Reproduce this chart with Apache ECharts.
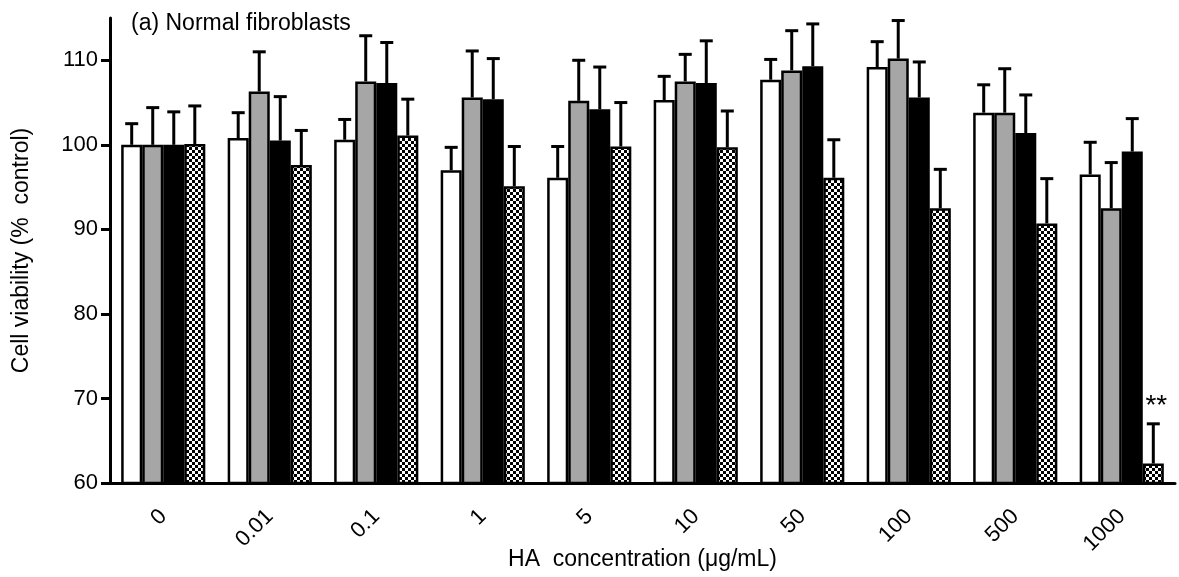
<!DOCTYPE html>
<html>
<head>
<meta charset="utf-8">
<script src="https://cdn.jsdelivr.net/npm/echarts@6/dist/echarts.min.js"></script>
<style>
    html, body { margin: 0; padding: 0; background: #fff; }
    #chart { width: 1179px; height: 577px; }
</style>
</head>
<body>
<div id="chart"></div>
<script>
    // HA concentrations (ug/mL)
    var categories = ['0', '0.01', '0.1', '1', '5', '10', '50', '100', '500', '1000'];

    // mean cell viability (% control), four series: white, grey, black, checkered
    var whiteVals = [100.0, 100.8, 100.6, 97.0, 96.1, 105.3, 107.7, 109.2, 103.8, 96.5];
    var greyVals  = [100.0, 106.3, 107.5, 105.6, 105.2, 107.5, 108.8, 110.2, 103.8, 92.5];
    var blackVals = [100.0, 100.5, 107.3, 105.4, 104.2, 107.3, 109.3, 105.6, 101.4, 99.2];
    var checkVals = [100.1, 97.6, 101.1, 95.1, 99.8, 99.7, 96.1, 92.5, 90.7, 62.3];

    // upper error (SD)
    var whiteErr = [2.5, 3.0, 2.4, 2.7, 3.7, 2.8, 2.4, 3.0, 3.3, 3.8];
    var greyErr  = [4.4, 4.7, 5.4, 5.5, 4.8, 3.2, 4.7, 4.5, 5.2, 5.4];
    var blackErr = [3.9, 5.2, 4.8, 4.8, 5.0, 5.0, 5.0, 4.2, 4.5, 3.9];
    var checkErr = [4.5, 4.1, 4.3, 4.7, 5.2, 4.3, 4.5, 4.6, 5.3, 4.7];

    // significance marks on the checkered series
    var checkSig = ['', '', '', '', '', '', '', '', '', '**'];

    var yTicks = [60, 70, 80, 90, 100, 110];

    var FONT = '"Liberation Sans", Arial, Helvetica, sans-serif';
    var CAT_GAP = 0.21;

    // checkered fill
    var pat = document.createElement('canvas');
    pat.width = 6; pat.height = 6;
    var pctx = pat.getContext('2d');
    pctx.fillStyle = '#fff';
    pctx.fillRect(0, 0, 6, 6);
    pctx.fillStyle = '#000';
    pctx.fillRect(0, 0, 3, 3);
    pctx.fillRect(3, 3, 3, 3);

    function barSeries(vals, color) {
        return {
            type: 'bar',
            data: vals,
            barGap: '0%',
            barCategoryGap: (CAT_GAP * 100) + '%',
            itemStyle: { color: color, borderColor: '#000', borderWidth: 2.5 },
            z: 2
        };
    }

    function errSeries(vals, errs, slot, sig) {
        var data = vals.map(function(v, i) { return [i, v, errs[i]]; });
        return {
            type: 'custom',
            data: data,
            encode: { x: 0, y: 1 },
            z: 3,
            renderItem: function(params, api) {
                var i = api.value(0);
                var v = api.value(1);
                var e = api.value(2);
                var band = api.size([1, 0])[0];
                var bw = band * (1 - CAT_GAP) / 4;
                var base = api.coord([i, v]);
                var top = api.coord([i, v + e]);
                var x = base[0] + (slot - 1.5) * bw;
                var half = 6.5;
                var kids = [
                    { type: 'line', shape: { x1: x, y1: base[1], x2: x, y2: top[1] },
                      style: { stroke: '#000', lineWidth: 3 } },
                    { type: 'line', shape: { x1: x - half, y1: top[1], x2: x + half, y2: top[1] },
                      style: { stroke: '#000', lineWidth: 3 } }
                ];
                if (sig && sig[i]) {
                    kids.push({ type: 'text', x: x + 3, y: top[1] - 4,
                        style: { text: sig[i], fill: '#000', font: '28px ' + FONT,
                                 textAlign: 'center', textVerticalAlign: 'bottom' } });
                }
                return { type: 'group', children: kids };
            }
        };
    }

    var chart = echarts.init(document.getElementById('chart'));
    chart.setOption({
        animation: false,
        backgroundColor: '#fff',
        textStyle: { fontFamily: FONT },
        title: {
            text: '(a) Normal fibroblasts',
            left: 126, top: 7,
            textStyle: { fontSize: 23, fontWeight: 'normal', color: '#000', fontFamily: FONT }
        },
        grid: { left: 110, right: 4, top: 18, bottom: 94, outerBoundsMode: 'none' },
        xAxis: {
            type: 'category',
            data: categories,
            name: 'HA  concentration (\u03bcg/mL)',
            nameLocation: 'middle',
            nameGap: 65,
            nameMoveOverlap: false,
            nameTextStyle: { fontSize: 23, color: '#000', fontFamily: FONT },
            axisLine: { lineStyle: { color: '#000', width: 3 } },
            axisTick: { alignWithLabel: true, length: 12, lineStyle: { color: '#000', width: 3 } },
            axisLabel: { rotate: 45, margin: 30, fontSize: 22, color: '#000', fontFamily: FONT }
        },
        yAxis: {
            type: 'value',
            min: 60, max: 115, interval: 10,
            name: 'Cell viability (%  control)',
            nameLocation: 'middle',
            nameGap: 77,
            nameMoveOverlap: false,
            nameTextStyle: { fontSize: 23, color: '#000', fontFamily: FONT },
            splitLine: { show: false },
            axisLine: { show: true, lineStyle: { color: '#000', width: 3 } },
            axisTick: { show: true, inside: false, length: 9, customValues: yTicks,
                        lineStyle: { color: '#000', width: 3 } },
            axisLabel: {
                fontSize: 22, color: '#000', margin: 12, fontFamily: FONT,
                customValues: yTicks
            }
        },
        series: [
            barSeries(whiteVals, '#ffffff'),
            barSeries(greyVals, '#a6a6a6'),
            barSeries(blackVals, '#000000'),
            barSeries(checkVals, { image: pat, repeat: 'repeat' }),
            errSeries(whiteVals, whiteErr, 0),
            errSeries(greyVals, greyErr, 1),
            errSeries(blackVals, blackErr, 2),
            errSeries(checkVals, checkErr, 3, checkSig)
        ]
    });
</script>
</body>
</html>
